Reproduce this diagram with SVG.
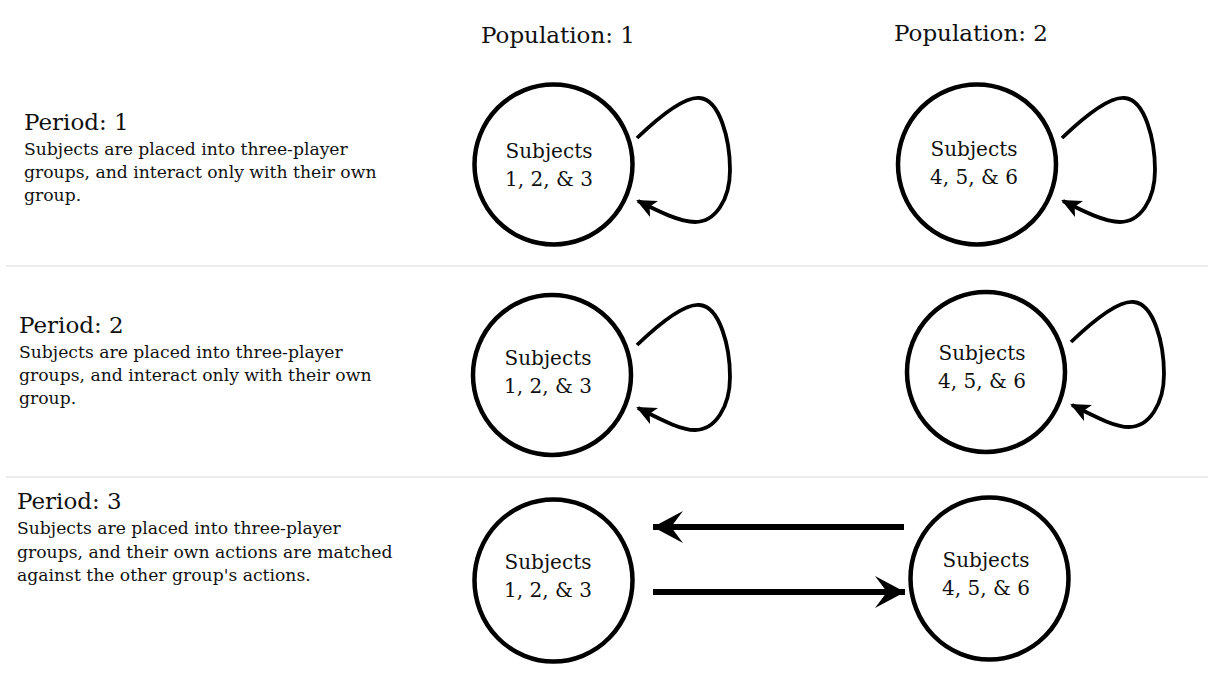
<svg xmlns="http://www.w3.org/2000/svg" width="1210" height="682" viewBox="0 0 1210 682">
<style>
text{font-family:"DejaVu Serif","Liberation Serif",serif;fill:#111}
.pop{font-size:23px}
.per{font-size:23px}
.desc{font-size:17.2px}
.lab{font-size:20px;text-anchor:middle}
.node{fill:#fff;stroke:#000;stroke-width:4.5}
.sep{stroke:#e6e6e6;stroke-width:1.5}
.loop{fill:none;stroke:#000;stroke-width:3.8;marker-end:url(#ah)}
.bar{fill:none;stroke:#000;stroke-width:6;marker-end:url(#ah2)}
</style>
<defs>
<marker id="ah" viewBox="0 0 20 18" refX="18" refY="9" markerWidth="20" markerHeight="18" markerUnits="userSpaceOnUse" orient="auto">
<path d="M0,0 L20,9 L0,18 L5,9 Z" fill="#000"/>
</marker>
<marker id="ah2" viewBox="0 0 30 32" refX="30" refY="16" markerWidth="30" markerHeight="32" markerUnits="userSpaceOnUse" orient="auto">
<path d="M0,0 L30,16 L0,32 L12,16 Z" fill="#000"/>
</marker>
</defs>
<rect width="1210" height="682" fill="#fff"/>
<g id="headers">
<text class="pop" x="481" y="43">Population: 1</text>
<text class="pop" x="894" y="41">Population: 2</text>
</g>
<g id="separators">
<line class="sep" x1="6" y1="266" x2="1208" y2="266"/>
<line class="sep" x1="6" y1="477" x2="1208" y2="477"/>
</g>
<g id="period1">
<text class="per" x="24" y="130">Period: 1</text>
<text class="desc" x="24" y="155">Subjects are placed into three-player</text>
<text class="desc" x="24" y="178">groups, and interact only with their own</text>
<text class="desc" x="24" y="201">group.</text>
</g>
<g id="period2">
<text class="per" x="19" y="333">Period: 2</text>
<text class="desc" x="19" y="358">Subjects are placed into three-player</text>
<text class="desc" x="19" y="381">groups, and interact only with their own</text>
<text class="desc" x="19" y="404">group.</text>
</g>
<g id="period3">
<text class="per" x="17" y="509">Period: 3</text>
<text class="desc" x="17" y="534">Subjects are placed into three-player</text>
<text class="desc" x="17" y="558">groups, and their own actions are matched</text>
<text class="desc" x="17" y="581">against the other group's actions.</text>
</g>
<g id="p1-pop1">
<ellipse class="node" cx="553.5" cy="164.5" rx="79" ry="80"/>
<text class="lab" x="549" y="158">Subjects</text>
<text class="lab" x="549" y="186">1, 2, &amp; 3</text>
</g>
<g id="p1-pop2">
<ellipse class="node" cx="977" cy="164.5" rx="79" ry="80"/>
<text class="lab" x="974" y="156">Subjects</text>
<text class="lab" x="974" y="184">4, 5, &amp; 6</text>
</g>
<g id="p2-pop1">
<ellipse class="node" cx="552" cy="375" rx="79" ry="80"/>
<text class="lab" x="548" y="365">Subjects</text>
<text class="lab" x="548" y="393">1, 2, &amp; 3</text>
</g>
<g id="p2-pop2">
<ellipse class="node" cx="986" cy="372" rx="79" ry="80"/>
<text class="lab" x="982" y="360">Subjects</text>
<text class="lab" x="982" y="388">4, 5, &amp; 6</text>
</g>
<g id="p3-pop1">
<ellipse class="node" cx="553.5" cy="580.5" rx="79" ry="81"/>
<text class="lab" x="548" y="569">Subjects</text>
<text class="lab" x="548" y="597">1, 2, &amp; 3</text>
</g>
<g id="p3-pop2">
<ellipse class="node" cx="989.5" cy="578.5" rx="79" ry="81"/>
<text class="lab" x="986" y="567">Subjects</text>
<text class="lab" x="986" y="595">4, 5, &amp; 6</text>
</g>
<g id="connectors">
<path class="loop" d="M637,138 C660,116 685,96 700,98 C720,100 730,140 730,170 C730,200 715,222 695,222 C680,222 660,212 638,201"/>
<path class="loop" d="M1062,138 C1085,116 1110,96 1125,98 C1145,100 1155,140 1155,170 C1155,200 1140,222 1120,222 C1105,222 1085,212 1063,201"/>
<path class="loop" d="M637,345 C660,323 685,303 700,305 C720,307 730,347 730,377 C730,407 715,430 695,430 C680,430 660,419 638,408"/>
<path class="loop" d="M1071,342 C1094,320 1119,300 1134,302 C1154,304 1164,344 1164,374 C1164,404 1149,427 1129,427 C1114,427 1094,416 1072,405"/>
<path class="bar" d="M904,527 L653,527"/>
<path class="bar" d="M653,592 L905,592"/>
</g>
</svg>
